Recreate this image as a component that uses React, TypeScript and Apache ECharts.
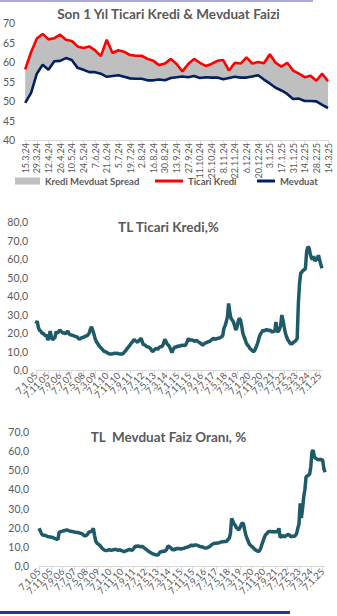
import React, { useEffect, useRef } from "react";
import * as echarts from "echarts";

// ---------- Chart 1: last year, weekly ----------
const weeklyDates = [
  "15.3.24", "22.3.24", "29.3.24", "5.4.24", "12.4.24", "19.4.24", "26.4.24", "3.5.24", "10.5.24", "17.5.24",
  "24.5.24", "31.5.24", "7.6.24", "14.6.24", "21.6.24", "28.6.24", "5.7.24", "12.7.24", "19.7.24", "26.7.24",
  "2.8.24", "9.8.24", "16.8.24", "23.8.24", "30.8.24", "6.9.24", "13.9.24", "20.9.24", "27.9.24", "4.10.24",
  "11.10.24", "18.10.24", "25.10.24", "1.11.24", "8.11.24", "15.11.24", "22.11.24", "29.11.24", "6.12.24", "13.12.24",
  "20.12.24", "27.12.24", "3.1.25", "10.1.25", "17.1.25", "24.1.25", "31.1.25", "7.2.25", "14.2.25", "21.2.25",
  "28.2.25", "7.3.25", "14.3.25",
];

const ticariKrediWeekly = [
  58.1, 62.5, 66, 67.2, 65.8, 66.1, 67, 65.7, 65.4, 64,
  63.6, 64, 63, 61.5, 65.7, 62.3, 63, 62.6, 61.8, 61.6,
  61.6, 60.8, 60.3, 59.2, 59.6, 60.8, 59.5, 57.6, 59.5, 60.8,
  59.8, 59, 59.5, 60.3, 60.5, 57.8, 59.8, 59.6, 61.2, 59.6,
  60, 59.7, 62, 59.8, 58.8, 59.8, 57.8, 57, 56.1, 56.5,
  55.2, 57, 55.1,
];

const mevduatWeekly = [
  49.5, 52, 57, 59.3, 58, 60.2, 60.3, 61, 60.5, 58.5,
  58, 57.4, 57.4, 57, 56.2, 56.4, 56.6, 56.2, 55.8, 55.7,
  55.7, 55.3, 55.3, 55.5, 55.3, 55.9, 56.1, 56.3, 56.1, 56.4,
  55.9, 56.1, 56, 56, 55.6, 55.9, 56.2, 56, 56, 56.3,
  56.6, 55.5, 54.5, 53.4, 52.7, 51.8, 50.5, 50.6, 50, 50,
  49.9, 49, 48.2,
];

// ---------- Charts 2 & 3: monthly since Jan 2005 ----------
const firstYear = 2005;
const lastYear = 2025;
const lastMonthOfLastYear = 3;

const ticariKrediMonthly = [
  25, 26.5, 23, 21.5, 21, 20, 19.8, 19.2, 18.4, 19, 16.2, 17.5, // 2005
  21, 18, 16.2, 17, 17.5, 20.7, 20, 20.5, 21.6, 21, 20.5, 20, // 2006
  20, 19.5, 20.5, 21, 19.5, 19, 18.9, 18.7, 18.5, 18.2, 18, 17.8, // 2007
  17, 16.6, 17.2, 17.6, 17.5, 18, 18.4, 18.4, 19, 20, 22, 23.4, // 2008
  21.5, 19.5, 17, 15.5, 14.4, 13.5, 12.6, 12, 11.2, 10.5, 10, 9.9, // 2009
  9.5, 9, 8.8, 8.6, 8.7, 8.8, 9, 9, 8.9, 9, 8.8, 8.7, // 2010
  8.6, 8.6, 9, 9.9, 10.5, 11.5, 12.2, 13, 14, 14.8, 15.5, 16.6, // 2011
  15.8, 15.5, 15, 15.8, 16.5, 17.1, 15, 13.5, 13.8, 13, 12.6, 12.5, // 2012
  12, 11.5, 10.4, 10, 10.8, 11.5, 11.7, 11, 12, 12.6, 12.5, 13, // 2013
  14.5, 16.6, 15.5, 14, 13.5, 12.5, 11, 9.4, 11, 12, 12.6, 12.3, // 2014
  13, 12.8, 13, 13.5, 13.2, 13.5, 13.2, 14, 15.5, 17.1, 16, 16.2, // 2015
  16.2, 16, 15.5, 15.8, 16, 15.3, 15, 14.5, 14, 13.5, 14, 14.5, // 2016
  14.8, 15, 15.5, 15.3, 16, 16.5, 17.1, 16.8, 16.5, 17, 17.1, 17.3, // 2017
  17.5, 18, 18.5, 22.5, 24, 26, 28.8, 36, 31, 27.9, 27, 26.1, // 2018
  24, 21.6, 23, 26, 27.9, 27, 24, 20, 18, 16.5, 14.4, 13.5, // 2019
  12.8, 11.7, 11, 10.5, 9.9, 10.5, 12, 13.5, 15.5, 18, 19.5, 20.5, // 2020
  21.6, 21, 21.5, 21.8, 21.6, 21.2, 21.6, 21, 20.5, 21, 20.7, 26, // 2021
  21, 20.7, 22, 24, 29.7, 27, 23.4, 20, 18, 16.5, 15.5, 14.4, // 2022
  14, 14.4, 15, 15.5, 16, 17.1, 36, 46.8, 52.3, 53, 54, 54, // 2023
  55, 64, 66.5, 66, 63, 60.5, 60, 61.5, 59, 59.5, 60, 62, // 2024
  59.5, 57, 55, // 2025
];

const mevduatMonthly = [
  19.7, 18.5, 17, 16.2, 16, 16, 15.8, 15.5, 15.3, 15.3, 15, 15, // 2005
  14.8, 14.5, 14.2, 14, 13.9, 17.5, 17.9, 18, 18.2, 18.5, 18.5, 18.8, // 2006
  18.8, 18.5, 18.3, 18.2, 18, 17.9, 17.8, 17.6, 17.5, 17.5, 17.3, 17.1, // 2007
  17, 16.5, 16, 15.7, 16, 16.5, 17.5, 17.9, 18, 18.5, 19.7, 16, // 2008
  13, 12, 11.5, 11, 10.4, 9.5, 9, 8.4, 8.2, 8, 8.2, 8.5, // 2009
  8.5, 8.2, 8.3, 8.5, 8.6, 8.7, 8.4, 8.2, 8.5, 8.3, 8, 7.8, // 2010
  7.5, 7.8, 8, 8.3, 8.5, 8.7, 8.3, 8.2, 9, 10, 10.4, 10.2, // 2011
  10.5, 10.2, 10, 10.3, 10, 9.5, 9, 8.5, 8, 7.5, 7.2, 6.8, // 2012
  6.5, 6.2, 6, 5.8, 5.7, 6, 7, 7.5, 7.5, 7.8, 7.5, 8, // 2013
  8.5, 10.4, 10.2, 9.8, 9.2, 8.4, 8.6, 8.5, 9.2, 9, 9.2, 9, // 2014
  8.8, 9, 9.2, 9.3, 9.8, 9.6, 10, 10.2, 10.5, 11, 10.5, 10.8, // 2015
  11, 11, 10.8, 10.5, 10.2, 10, 10, 9.8, 9.5, 9.3, 9.5, 9.8, // 2016
  10, 10.5, 11, 11.5, 11.8, 11.9, 11.9, 12, 12, 12.3, 12.5, 12.7, // 2017
  12.7, 12.8, 12.8, 13, 14, 14.4, 17, 24.9, 23.5, 22, 21.4, 20, // 2018
  19.5, 18.8, 20, 21.5, 22.6, 22, 19, 16.2, 14.5, 13, 11.5, 10.8, // 2019
  10.2, 9.7, 9, 8.5, 8, 7.8, 7.5, 8.5, 10, 12, 13.6, 15.5, // 2020
  16.5, 17, 17.9, 18, 18, 17.9, 18, 17.8, 17.9, 18, 17.9, 19.7, // 2021
  15, 15.3, 16, 15.5, 15.3, 15.8, 16.2, 16.5, 16, 15.3, 15.5, 15.5, // 2022
  15.5, 16, 17, 19.7, 22, 32.7, 25, 30, 36.2, 40, 46.7, 47, // 2023
  47.5, 48, 52, 59.7, 60.5, 57, 56.3, 56, 55.5, 55.5, 55.8, 55.4, // 2024
  55.5, 51, 49, // 2025
];

const monthlyDates: string[] = [];
for (let y = firstYear; y <= lastYear; y++) {
  const maxM = y === lastYear ? lastMonthOfLastYear : 12;
  for (let m = 1; m <= maxM; m++) {
    monthlyDates.push(`7.${m}.${String(y % 100).padStart(2, "0")}`);
  }
}

const spreadWeekly = ticariKrediWeekly.map((v, i) => +(v - mevduatWeekly[i]).toFixed(2));

const GRAY = "#595959";
const AXIS = "#D9D9D9";
const TEAL = "#1F5A69";
const FONT = "Lato";

const comma = (v: number) => v.toFixed(1).replace(".", ",");
const everyTenth = (i: number) => i % 10 === 0;

export default function App() {
  const ref = useRef<HTMLDivElement>(null);

  useEffect(() => {
    document.body.style.margin = "0";
    if (!ref.current) return;
    const chart = echarts.init(ref.current, undefined, { renderer: "svg" });

    const titleStyle = { fontFamily: FONT, fontSize: 13.5, fontWeight: "bold" as const, color: GRAY };
    const legendText = { fontFamily: FONT, fontSize: 9.5, fontWeight: "bold" as const, color: GRAY };

    const monthlyX = (gridIndex: number) => ({
      type: "category" as const,
      gridIndex,
      data: monthlyDates,
      boundaryGap: false,
      axisLine: { lineStyle: { color: AXIS, width: 1 } },
      axisTick: { interval: everyTenth, length: 4, lineStyle: { color: AXIS } },
      axisLabel: {
        interval: 0, rotate: 45, fontFamily: FONT, fontSize: 9.5, color: GRAY, margin: 4,
        formatter: (v: string, i: number) => (i % 10 === 0 ? v : ""),
      },
    });

    const option: any = {
      animation: false,
      title: [
        { text: "Son 1 Yıl Ticari Kredi & Mevduat Faizi", left: "center", top: 7, padding: 0, textStyle: titleStyle },
        { text: "TL Ticari Kredi,%", left: "center", top: 220, padding: 0, textStyle: titleStyle },
        { text: "TL  Mevduat Faiz Oranı, %", left: "center", top: 430, padding: 0, textStyle: titleStyle },
      ],
      legend: [
        {
          data: [{ name: "Kredi Mevduat Spread", icon: "rect" }],
          left: 15, top: 176, padding: 0, itemWidth: 25, itemHeight: 7, textStyle: legendText,
        },
        {
          data: [{ name: "Ticari Kredi", icon: "rect" }],
          left: 155, top: 176, padding: 0, itemWidth: 28, itemHeight: 3, textStyle: legendText,
        },
        {
          data: [{ name: "Mevduat", icon: "rect" }],
          left: 257, top: 176, padding: 0, itemWidth: 18, itemHeight: 3, textStyle: legendText,
        },
      ],
      grid: [
        { left: 24, top: 23, width: 304, height: 117 },
        { left: 36, top: 222, width: 286, height: 148 },
        { left: 39, top: 432, width: 286, height: 134 },
      ],
      xAxis: [
        {
          type: "category",
          gridIndex: 0,
          data: weeklyDates,
          boundaryGap: false,
          axisLine: { lineStyle: { color: AXIS } },
          axisTick: { interval: 1, length: 3, lineStyle: { color: AXIS } },
          axisLabel: { interval: 1, rotate: 90, fontFamily: FONT, fontSize: 9, color: GRAY, margin: 3 },
        },
        monthlyX(1),
        monthlyX(2),
      ],
      yAxis: [
        {
          type: "value", gridIndex: 0, min: 40, max: 70, interval: 5,
          splitLine: { show: false }, axisLine: { show: false }, axisTick: { show: false },
          axisLabel: { fontFamily: FONT, fontSize: 10.5, color: GRAY, margin: 10 },
        },
        {
          type: "value", gridIndex: 1, min: 0, max: 80, interval: 10,
          splitLine: { show: false }, axisLine: { show: false }, axisTick: { show: false },
          axisLabel: { fontFamily: FONT, fontSize: 10.5, color: GRAY, margin: 8, formatter: comma },
        },
        {
          type: "value", gridIndex: 2, min: 0, max: 70, interval: 10,
          splitLine: { show: false }, axisLine: { show: false }, axisTick: { show: false },
          axisLabel: { fontFamily: FONT, fontSize: 10.5, color: GRAY, margin: 10, formatter: comma },
        },
      ],
      series: [
        {
          type: "line", name: "base", xAxisIndex: 0, yAxisIndex: 0, data: mevduatWeekly,
          stack: "band", symbol: "none", lineStyle: { opacity: 0 }, silent: true,
        },
        {
          type: "line", name: "Kredi Mevduat Spread", xAxisIndex: 0, yAxisIndex: 0, data: spreadWeekly,
          stack: "band", symbol: "none", lineStyle: { width: 0, opacity: 0 },
          areaStyle: { color: "#BFBFBF", opacity: 1 }, itemStyle: { color: "#BFBFBF" },
        },
        {
          type: "line", name: "Ticari Kredi", xAxisIndex: 0, yAxisIndex: 0, data: ticariKrediWeekly,
          symbol: "none", lineStyle: { width: 2.6, color: "#FF0000" }, itemStyle: { color: "#FF0000" },
        },
        {
          type: "line", name: "Mevduat", xAxisIndex: 0, yAxisIndex: 0, data: mevduatWeekly,
          symbol: "none", lineStyle: { width: 2.6, color: "#002060" }, itemStyle: { color: "#002060" },
        },
        {
          type: "line", name: "TL Ticari Kredi", xAxisIndex: 1, yAxisIndex: 1, data: ticariKrediMonthly,
          symbol: "none", lineStyle: { width: 3.5, color: TEAL }, itemStyle: { color: TEAL },
        },
        {
          type: "line", name: "TL Mevduat", xAxisIndex: 2, yAxisIndex: 2, data: mevduatMonthly,
          symbol: "none", lineStyle: { width: 3.5, color: TEAL }, itemStyle: { color: TEAL },
        },
      ],
      graphic: [
        { type: "rect", shape: { x: 0, y: 0, width: 313, height: 2 }, style: { fill: "#A9A9DA" } },
        { type: "rect", shape: { x: 0, y: 611, width: 290, height: 3 }, style: { fill: "#1F3A80" } },
      ],
    };

    chart.setOption(option);
    return () => chart.dispose();
  }, []);

  return <div ref={ref} style={{ width: 337, height: 616 }} />;
}
